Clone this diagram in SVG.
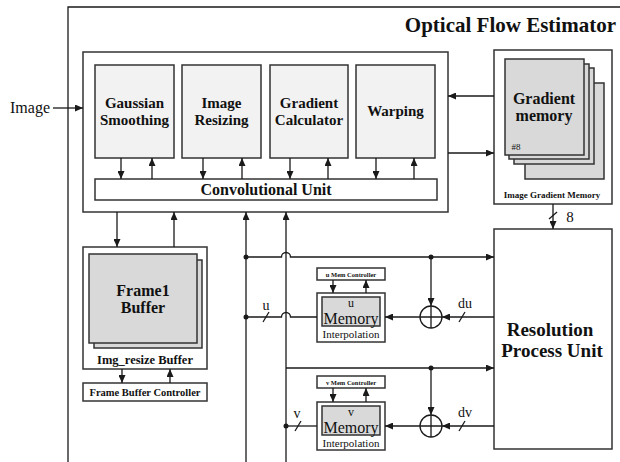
<svg xmlns="http://www.w3.org/2000/svg" width="620" height="462" viewBox="0 0 620 462">
  <style>
    .box { fill: #ffffff; stroke: #333333; stroke-width: 1.5; }
    .proc { fill: #f2f2f2; stroke: #333333; stroke-width: 1.5; }
    .mem { fill: #d9d9d9; stroke: #333333; stroke-width: 1.5; }
    .wire { fill: none; stroke: #1a1a1a; stroke-width: 1.3; }
    .arr { fill: none; stroke: #1a1a1a; stroke-width: 1.3; marker-end: url(#ah); }
    .dot { fill: #1a1a1a; }
    .t { font-family: "Liberation Serif", "Times New Roman", serif; fill: #111111; text-anchor: middle; }
    .b { font-weight: bold; }
  </style>
  <defs>
    <marker id="ah" markerUnits="userSpaceOnUse" markerWidth="8" markerHeight="7" refX="8" refY="3.5" orient="auto">
      <path d="M0,0 L8,3.5 L0,7 z" fill="#1a1a1a"/>
    </marker>
  </defs>

  <rect width="620" height="462" fill="#ffffff"/>

  <!-- enclosing estimator frame (open on right and bottom) -->
  <g id="estimator">
    <path class="wire" d="M68,462 V7 H620" stroke-width="1.5"/>
    <text class="t b" x="616" y="32" font-size="21" style="text-anchor:end">Optical Flow Estimator</text>
  </g>

  <text class="t" x="30" y="113" font-size="16">Image</text>

  <!-- convolution block with its processing stages -->
  <g id="conv-block">
    <rect class="box" x="83" y="52" width="365" height="160"/>
  </g>
  <g id="gaussian">
    <rect class="proc" x="95" y="65" width="79" height="93"/>
    <text class="t b" x="134.5" y="108" font-size="15">Gaussian</text>
    <text class="t b" x="134.5" y="125" font-size="15">Smoothing</text>
  </g>
  <g id="resizing">
    <rect class="proc" x="182" y="65" width="79" height="93"/>
    <text class="t b" x="221.5" y="108" font-size="15">Image</text>
    <text class="t b" x="221.5" y="125" font-size="15">Resizing</text>
  </g>
  <g id="gradient-calc">
    <rect class="proc" x="270" y="65" width="78" height="93"/>
    <text class="t b" x="309" y="108" font-size="15">Gradient</text>
    <text class="t b" x="309" y="125" font-size="15">Calculator</text>
  </g>
  <g id="warping">
    <rect class="proc" x="356" y="65" width="79" height="93"/>
    <text class="t b" x="395.5" y="116" font-size="15">Warping</text>
  </g>
  <g id="conv-unit">
    <rect class="box" x="95" y="179" width="342" height="21"/>
    <text class="t b" x="266" y="194.5" font-size="16">Convolutional Unit</text>
  </g>

  <!-- gradient memory bank -->
  <g id="gradient-memory">
    <rect class="box" x="494" y="50" width="118" height="154"/>
    <rect class="mem" x="525" y="83" width="79" height="96"/>
    <rect class="mem" x="514" y="68" width="80" height="96"/>
    <rect class="mem" x="509" y="64" width="80" height="95"/>
    <rect class="mem" x="505" y="59" width="79" height="96"/>
    <text class="t b" x="544" y="104" font-size="16">Gradient</text>
    <text class="t b" x="544" y="121" font-size="16">memory</text>
    <text class="t" x="516" y="150" font-size="9">#8</text>
    <text class="t b" x="552" y="198" font-size="9">Image Gradient Memory</text>
  </g>

  <!-- frame buffer -->
  <g id="frame-buffer">
    <rect class="box" x="83" y="247" width="124" height="122"/>
    <rect class="mem" x="94" y="260" width="108" height="88" fill="#dedede"/>
    <rect class="mem" x="89" y="254" width="108" height="89"/>
    <text class="t b" x="143" y="296" font-size="16">Frame1</text>
    <text class="t b" x="143" y="313" font-size="16">Buffer</text>
    <text class="t b" x="145" y="364" font-size="12.5">Img_resize Buffer</text>
  </g>
  <g id="frame-buffer-controller">
    <rect class="box" x="83" y="383" width="124" height="18"/>
    <text class="t b" x="145" y="396" font-size="10.5">Frame Buffer Controller</text>
  </g>

  <!-- resolution process unit -->
  <g id="resolution-unit">
    <rect class="box" x="494" y="229" width="118" height="220"/>
    <text class="t b" x="550" y="336" font-size="19">Resolution</text>
    <text class="t b" x="552" y="357" font-size="19">Process Unit</text>
  </g>

  <!-- u / v memories -->
  <g id="u-mem-controller">
    <rect class="box" x="317" y="268" width="68" height="12" stroke-width="1.2"/>
    <text class="t b" x="351" y="276.5" font-size="6.5">u Mem Controller</text>
  </g>
  <g id="u-memory">
    <rect class="box" x="317" y="293" width="68" height="49"/>
    <rect class="mem" x="322" y="297" width="58" height="29" stroke-width="1.2"/>
    <text class="t" x="351" y="307" font-size="12">u</text>
    <text class="t" x="351" y="324" font-size="16">Memory</text>
    <text class="t" x="351" y="337.5" font-size="11">Interpolation</text>
  </g>
  <g id="v-mem-controller">
    <rect class="box" x="317" y="376" width="68" height="12" stroke-width="1.2"/>
    <text class="t b" x="351" y="384.5" font-size="6.5">v Mem Controller</text>
  </g>
  <g id="v-memory">
    <rect class="box" x="317" y="402" width="68" height="48"/>
    <rect class="mem" x="322" y="406" width="58" height="29" stroke-width="1.2"/>
    <text class="t" x="351" y="416" font-size="12">v</text>
    <text class="t" x="351" y="433" font-size="16">Memory</text>
    <text class="t" x="351" y="446.5" font-size="11">Interpolation</text>
  </g>

  <!-- adders -->
  <g id="adder-u">
    <circle cx="431" cy="317" r="11" fill="#ffffff" stroke="#1a1a1a" stroke-width="1.3"/>
    <path class="wire" d="M420,317 H442 M431,306 V328"/>
  </g>
  <g id="adder-v">
    <circle cx="431" cy="426" r="11" fill="#ffffff" stroke="#1a1a1a" stroke-width="1.3"/>
    <path class="wire" d="M420,426 H442 M431,415 V437"/>
  </g>

  <!-- connectors -->
  <g id="connectors">
    <!-- image input -->
    <path class="arr" d="M53,108 H83"/>
    <!-- stages to/from convolutional unit -->
    <path class="arr" d="M121,158 V179"/>
    <path class="arr" d="M152,179 V158"/>
    <path class="arr" d="M203,158 V179"/>
    <path class="arr" d="M242,179 V158"/>
    <path class="arr" d="M290,158 V179"/>
    <path class="arr" d="M328,179 V158"/>
    <path class="arr" d="M376,158 V179"/>
    <path class="arr" d="M414,179 V158"/>
    <!-- gradient memory links -->
    <path class="arr" d="M494,96 H448"/>
    <path class="arr" d="M448,153 H494"/>
    <path class="arr" d="M553,204 V229"/>
    <path class="wire" d="M549,219 L557,212"/>
    <text class="t" x="570" y="222" font-size="15">8</text>
    <!-- frame buffer links -->
    <path class="arr" d="M117,212 V247"/>
    <path class="arr" d="M174,247 V212"/>
    <path class="arr" d="M122,369 V383"/>
    <path class="arr" d="M170,383 V369"/>
    <!-- flow field buses -->
    <path class="arr" d="M246,462 V212"/>
    <path class="arr" d="M286,462 V212"/>
    <path class="arr" d="M246,257 H281.5 A4.5,4.5 0 0 1 290.5,257 H494"/>
    <path class="wire" d="M246,317 H281.5 A4.5,4.5 0 0 1 290.5,317 H317"/>
    <path class="wire" d="M263,322 L269,312"/>
    <text class="t" x="266" y="310" font-size="14">u</text>
    <path class="arr" d="M286,368 H494"/>
    <path class="wire" d="M286,426 H317"/>
    <path class="wire" d="M295,431 L301,421"/>
    <text class="t" x="297" y="418" font-size="14">v</text>
    <circle class="dot" cx="246" cy="257" r="2.5"/>
    <circle class="dot" cx="246" cy="317" r="2.5"/>
    <circle class="dot" cx="286" cy="426" r="2.5"/>
    <circle class="dot" cx="431" cy="257" r="2.5"/>
    <circle class="dot" cx="431" cy="368" r="2.5"/>
    <!-- u update path -->
    <path class="arr" d="M431,257 V306"/>
    <path class="arr" d="M494,317 H442"/>
    <path class="wire" d="M459,322 L465,312"/>
    <text class="t" x="465" y="308" font-size="14">du</text>
    <path class="arr" d="M420,317 H385"/>
    <path class="arr" d="M333,280 V293"/>
    <path class="arr" d="M366,293 V280"/>
    <!-- v update path -->
    <path class="arr" d="M431,368 V415"/>
    <path class="arr" d="M494,426 H442"/>
    <path class="wire" d="M459,431 L465,421"/>
    <text class="t" x="465" y="417" font-size="14">dv</text>
    <path class="arr" d="M420,426 H385"/>
    <path class="arr" d="M333,388 V402"/>
    <path class="arr" d="M366,402 V388"/>
  </g>
</svg>
